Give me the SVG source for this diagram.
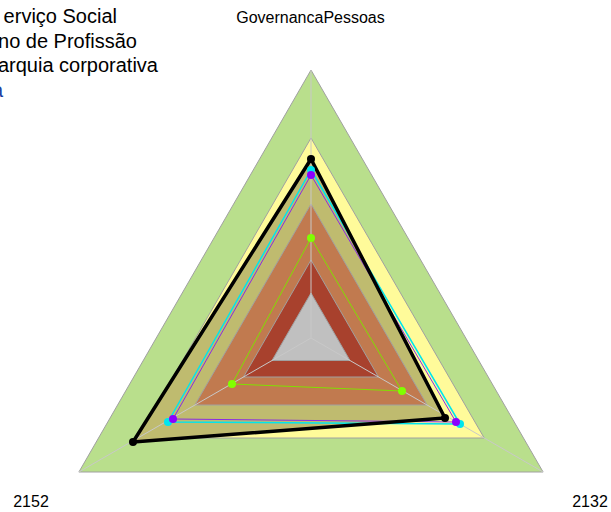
<svg xmlns="http://www.w3.org/2000/svg" width="611" height="512" viewBox="0 0 611 512">
<style>
text{font-family:"Liberation Sans",Arial,sans-serif;fill:#000}
.axl{font-size:16px;text-anchor:middle}
.leg{font-size:20px;text-anchor:end}
.band{stroke:#a0a0a0;stroke-width:1}
.axis{stroke:#c8c8c8;stroke-width:1;fill:none}
.ser{fill:none;stroke-linejoin:round}
</style>
<rect width="611" height="512" fill="#ffffff"/>
<g id="grid">
<polygon class="band" points="311,70 78.9,472 543.1,472" fill="#b9df8c" stroke="none"/>
<polygon class="band" points="311,138 137.8,438 484.2,438" fill="#fffb9a" stroke="none"/>
<polygon id="fill-black" points="311,159 133,442 445,418" fill="#bfbb6f"/>
<polygon class="band" points="311,204 194.9,405 427.1,405" fill="#c17a4f"/>
<polygon class="band" points="311,260 243.5,377 378.5,377" fill="#a8412d"/>
<polygon class="band" points="311,293 272,360.5 350,360.5" fill="#c0c0c0"/>
<line class="axis" x1="311" y1="338" x2="311" y2="70"/>
<line class="axis" x1="311" y1="338" x2="78.9" y2="472"/>
<line class="axis" x1="311" y1="338" x2="543.1" y2="472"/>
</g>
<g id="connectors">
<polygon id="s-lime" class="ser" points="311,238 232,384 402,391" stroke="#80e000" stroke-width="1"/>
<polygon id="s-cyan" class="ser" points="311,170 168,422 460,424" stroke="#00e5ee" stroke-width="1.5"/>
<polygon id="s-purple" class="ser" points="311,175 173,419 456,422" stroke="#8a2be2" stroke-width="1"/>
<polygon id="s-black" class="ser" points="311,159 133,442 445,418" stroke="#000" stroke-width="3.5"/>
</g>
<g id="points">
<g id="p-lime" fill="#80ff00"><circle cx="311" cy="238" r="4"/><circle cx="232" cy="384" r="4"/><circle cx="402" cy="391" r="4"/></g>
<g id="p-cyan" fill="#00e5ee"><circle cx="311" cy="170" r="4"/><circle cx="168" cy="422" r="4"/><circle cx="460" cy="424" r="4"/></g>
<g id="p-black" fill="#000"><circle cx="311" cy="159" r="4"/><circle cx="133" cy="442" r="4"/><circle cx="445" cy="418" r="4"/></g>
<g id="p-purple" fill="#8b00ff"><circle cx="311" cy="175" r="4"/><circle cx="173" cy="419" r="4"/><circle cx="456" cy="422" r="4"/></g>
</g>
<g id="labels">
<text class="axl" x="310.5" y="23">GovernancaPessoas</text>
<text class="axl" x="31" y="507">2152</text>
<text class="axl" x="590" y="507">2132</text>
</g>
<g id="legend">
<text class="leg" x="117" y="23">erviço Social</text>
<text class="leg" x="137" y="47.5">no de Profissão</text>
<text class="leg" x="158" y="72">arquia corporativa</text>
<text class="leg" x="3" y="96.5" style="fill:#1f3f9f">a</text>
</g>
</svg>
